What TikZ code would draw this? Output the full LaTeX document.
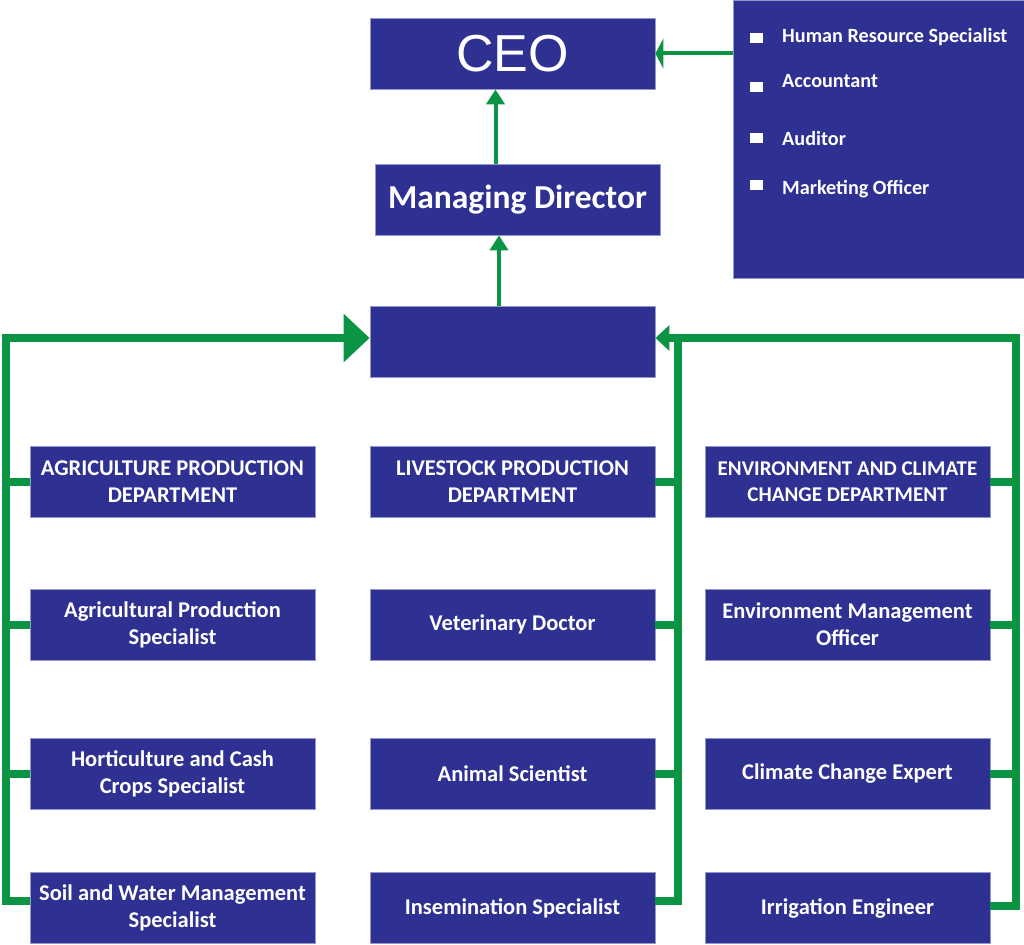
\documentclass[tikz,border=0pt]{standalone}
\usepackage{fontspec}
\setmainfont{Carlito}
\newfontfamily\ceofont{Liberation Sans}
\usetikzlibrary{arrows.meta}
\definecolor{boxblue}{RGB}{46,49,146}
\definecolor{boxedge}{RGB}{150,152,205}
\definecolor{linkgreen}{RGB}{11,148,68}
\tikzset{
	post/.style={draw=boxedge, line width=0.8pt, fill=boxblue, text=white, minimum width=285pt, minimum height=71pt, inner sep=0pt, align=center, font=\bfseries\fontsize{22.5}{27}\selectfont},
	trunk/.style={draw=linkgreen, line width=8pt, line join=miter},
	link/.style={draw=linkgreen, line width=4pt},
}

\begin{document}
\begin{tikzpicture}[x=1pt,y=-1pt]
			%%%%% START %%%%%
			\useasboundingbox (0,0) rectangle (1024,944);
			
			\node[post, font=\ceofont\fontsize{52}{52}\selectfont] (ceo) at (512.5, 53.5) {CEO};
			\node[post, font=\bfseries\fontsize{33.5}{33.5}\selectfont] (md) at (517.5, 199.5) {Managing Director};
			\node[post] (hub) at (512.5, 341.5) {};
			
			\node[post, minimum width=291pt, minimum height=278pt] (staff) at (878.5, 139) {};
			\foreach \y/\b/\job [count=\i] in {43/33/Human Resource Specialist, 88/82/Accountant, 146/133/Auditor, 194/180/Marketing Officer} {
				\fill[white] (750, \b) rectangle (763, \b+10);
				\node[anchor=base west, inner sep=0pt, text=white, font=\bfseries\fontsize{20.2}{20.2}\selectfont] (job\i) at (782, \y) {\job};
			}
			
			%%%%% LEFT %%%%%
			\node[post] (agri) at (172.5, 482) {AGRICULTURE PRODUCTION\\DEPARTMENT};
			\node[post] (agrispec) at (172.5, 624.5) {Agricultural Production\\Specialist};
			\node[post] (horti) at (172.5, 774) {Horticulture and Cash\\Crops Specialist};
			\node[post] (soil) at (172.5, 908) {Soil and Water Management\\Specialist};
			
			%%%%% MIDDLE %%%%%
			\node[post] (live) at (512.5, 482) {LIVESTOCK PRODUCTION\\DEPARTMENT};
			\node[post] (vet) at (512.5, 624.5) {Veterinary Doctor};
			\node[post] (animal) at (512.5, 774) {Animal Scientist};
			\node[post] (insem) at (512.5, 908) {Insemination Specialist};
			
			%%%%% RIGHT %%%%%
			\node[post, font=\bfseries\fontsize{21}{26}\selectfont] (env) at (847.5, 482) {ENVIRONMENT AND CLIMATE\\CHANGE DEPARTMENT};
			\node[post] (envman) at (847.5, 624.5) {Environment Management\\Officer};
			\node[post] (climate) at (847.5, 774) {Climate Change Expert};
			\node[post] (irrig) at (847.5, 908) {Irrigation Engineer};
			
			%%%%% LINKS %%%%%
			\draw[link, -{Triangle[length=8pt,width=30pt]}] (staff.west |- ceo.east) -- (ceo.east);
			\draw[link, -{Triangle[length=15pt,width=18pt]}] ([xshift=-22pt]md.north) -- ([xshift=-22pt]md.north |- ceo.south);
			\draw[link, -{Triangle[length=15pt,width=18pt]}] ([xshift=-13.5pt]hub.north) -- ([xshift=-13.5pt]hub.north |- md.south);
			
			\coordinate (ltop) at (6, 338);
			\coordinate (lbot) at (6, 901);
			\coordinate (mtop) at (678, 338);
			\coordinate (mbot) at (678, 901);
			\coordinate (rtop) at (1016, 338);
			\coordinate (rbot) at (1016, 906);
			
			\draw[trunk, -{Triangle[length=26pt,width=47pt]}] (lbot -| soil.west) -- (lbot) -- (ltop) -- (ltop -| hub.west);
			\draw[trunk, -{Triangle[length=14pt,width=25pt]}] (rbot -| irrig.east) -- (rbot) -- (rtop) -- (rtop -| hub.east);
			\draw[trunk] (mbot -| insem.east) -- (mbot) -- (mtop);
			
			\foreach \n in {agri, agrispec, horti} \draw[trunk] (\n.west) -- (\n.west -| ltop);
			\foreach \n in {live, vet, animal} \draw[trunk] (\n.east) -- (\n.east -| mtop);
			\foreach \n in {env, envman, climate} \draw[trunk] (\n.east) -- (\n.east -| rtop);
			
			%%%%% END %%%%%
\end{tikzpicture}
\end{document}
